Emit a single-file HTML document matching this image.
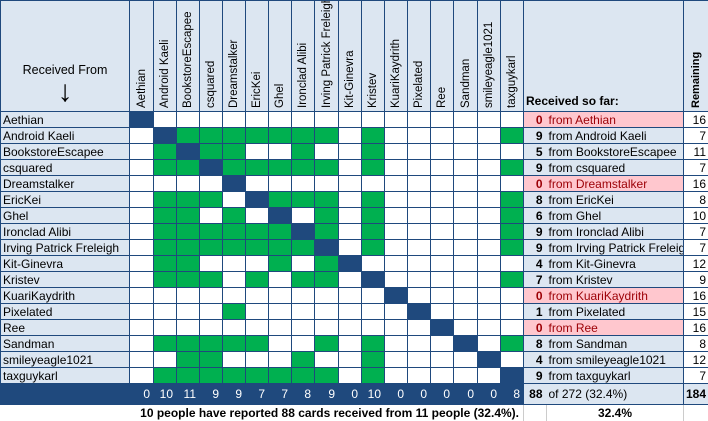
<!DOCTYPE html>
<html><head><meta charset="utf-8"><style>
*{margin:0;padding:0;box-sizing:border-box}
body{width:708px;height:420px;background:#fff;font-family:"Liberation Sans",sans-serif;font-size:12px;color:#000;overflow:hidden}
table{border-collapse:collapse;table-layout:fixed;width:708px}
td{border:1px solid #1f497d;height:16px;padding:0;white-space:nowrap;overflow:hidden;line-height:14px}
td.n{background:#dce6f1;padding-left:2px;font-size:12px}
td.g{background:#00b050}
td.d{background:#1f497d}
td.c{background:#dce6f1;text-align:right;padding-right:4px;font-weight:bold;border-right:none}
td.t{background:#dce6f1;padding-left:2px;border-left:none}
td.cp{background:#ffc7ce;color:#9c0006;text-align:right;padding-right:4px;font-weight:bold;border-right:none}
td.tp{background:#ffc7ce;color:#9c0006;padding-left:2px;border-left:none}
td.r{text-align:right;padding-right:2px;background:#fff}
tr.h td{height:111px;background:#dce6f1;vertical-align:bottom}
.v{writing-mode:vertical-rl;transform:rotate(180deg);font-size:11.5px;line-height:22px;padding-top:3px;height:108px;text-align:left;margin:0 auto}
tr.tot td{height:21px;background:#1f497d;color:#fff;text-align:right;padding-right:3px;font-size:12px}
tr.f td{height:16px;border:none;border-right:1px solid #ccc;font-weight:bold;font-size:12px}
</style></head><body>
<table>
<colgroup><col style="width:129px"><col style="width:24px"><col style="width:23px"><col style="width:23px"><col style="width:23px"><col style="width:23px"><col style="width:23px"><col style="width:23px"><col style="width:23px"><col style="width:24px"><col style="width:23px"><col style="width:23px"><col style="width:23px"><col style="width:23px"><col style="width:23px"><col style="width:24px"><col style="width:23px"><col style="width:23px"><col style="width:23px"><col style="width:137px"><col style="width:25px"></colgroup>
<tr class="h"><td style="text-align:center;vertical-align:top;padding-top:62px;font-size:12.5px">Received From<div style="font-size:30px;line-height:34px;margin-top:-2px">&#8595;</div></td>
<td><div class="v">Aethian</div></td><td><div class="v">Android Kaeli</div></td><td><div class="v">BookstoreEscapee</div></td><td><div class="v">csquared</div></td><td><div class="v">Dreamstalker</div></td><td><div class="v">EricKei</div></td><td><div class="v">Ghel</div></td><td><div class="v">Ironclad Alibi</div></td><td><div class="v">Irving Patrick Freleigh</div></td><td><div class="v">Kit-Ginevra</div></td><td><div class="v">Kristev</div></td><td><div class="v">KuariKaydrith</div></td><td><div class="v">Pixelated</div></td><td><div class="v">Ree</div></td><td><div class="v">Sandman</div></td><td><div class="v">smileyeagle1021</div></td><td><div class="v">taxguykarl</div></td>
<td colspan="2" style="font-weight:bold;padding-left:2px;padding-bottom:3px">Received so far:</td>
<td><div class="v" style="font-weight:bold;font-size:11px">Remaining</div></td></tr>
<tr><td class="n">Aethian</td><td class="d"></td><td></td><td></td><td></td><td></td><td></td><td></td><td></td><td></td><td></td><td></td><td></td><td></td><td></td><td></td><td></td><td></td><td class="cp">0</td><td class="tp">from Aethian</td><td class="r">16</td></tr>
<tr><td class="n">Android Kaeli</td><td></td><td class="d"></td><td class="g"></td><td class="g"></td><td class="g"></td><td class="g"></td><td class="g"></td><td class="g"></td><td class="g"></td><td></td><td class="g"></td><td></td><td></td><td></td><td></td><td></td><td class="g"></td><td class="c">9</td><td class="t">from Android Kaeli</td><td class="r">7</td></tr>
<tr><td class="n">BookstoreEscapee</td><td></td><td class="g"></td><td class="d"></td><td class="g"></td><td class="g"></td><td></td><td></td><td class="g"></td><td></td><td></td><td class="g"></td><td></td><td></td><td></td><td></td><td></td><td></td><td class="c">5</td><td class="t">from BookstoreEscapee</td><td class="r">11</td></tr>
<tr><td class="n">csquared</td><td></td><td class="g"></td><td class="g"></td><td class="d"></td><td class="g"></td><td class="g"></td><td class="g"></td><td class="g"></td><td class="g"></td><td></td><td class="g"></td><td></td><td></td><td></td><td></td><td></td><td class="g"></td><td class="c">9</td><td class="t">from csquared</td><td class="r">7</td></tr>
<tr><td class="n">Dreamstalker</td><td></td><td></td><td></td><td></td><td class="d"></td><td></td><td></td><td></td><td></td><td></td><td></td><td></td><td></td><td></td><td></td><td></td><td></td><td class="cp">0</td><td class="tp">from Dreamstalker</td><td class="r">16</td></tr>
<tr><td class="n">EricKei</td><td></td><td class="g"></td><td class="g"></td><td class="g"></td><td></td><td class="d"></td><td class="g"></td><td class="g"></td><td class="g"></td><td></td><td class="g"></td><td></td><td></td><td></td><td></td><td></td><td class="g"></td><td class="c">8</td><td class="t">from EricKei</td><td class="r">8</td></tr>
<tr><td class="n">Ghel</td><td></td><td class="g"></td><td class="g"></td><td></td><td class="g"></td><td></td><td class="d"></td><td></td><td class="g"></td><td></td><td class="g"></td><td></td><td></td><td></td><td></td><td></td><td class="g"></td><td class="c">6</td><td class="t">from Ghel</td><td class="r">10</td></tr>
<tr><td class="n">Ironclad Alibi</td><td></td><td class="g"></td><td class="g"></td><td class="g"></td><td class="g"></td><td class="g"></td><td class="g"></td><td class="d"></td><td class="g"></td><td></td><td class="g"></td><td></td><td></td><td></td><td></td><td></td><td class="g"></td><td class="c">9</td><td class="t">from Ironclad Alibi</td><td class="r">7</td></tr>
<tr><td class="n">Irving Patrick Freleigh</td><td></td><td class="g"></td><td class="g"></td><td class="g"></td><td class="g"></td><td class="g"></td><td class="g"></td><td class="g"></td><td class="d"></td><td></td><td class="g"></td><td></td><td></td><td></td><td></td><td></td><td class="g"></td><td class="c">9</td><td class="t">from Irving Patrick Freleigh</td><td class="r">7</td></tr>
<tr><td class="n">Kit-Ginevra</td><td></td><td class="g"></td><td class="g"></td><td></td><td></td><td></td><td class="g"></td><td></td><td class="g"></td><td class="d"></td><td></td><td></td><td></td><td></td><td></td><td></td><td></td><td class="c">4</td><td class="t">from Kit-Ginevra</td><td class="r">12</td></tr>
<tr><td class="n">Kristev</td><td></td><td class="g"></td><td class="g"></td><td class="g"></td><td></td><td class="g"></td><td></td><td class="g"></td><td class="g"></td><td></td><td class="d"></td><td></td><td></td><td></td><td></td><td></td><td class="g"></td><td class="c">7</td><td class="t">from Kristev</td><td class="r">9</td></tr>
<tr><td class="n">KuariKaydrith</td><td></td><td></td><td></td><td></td><td></td><td></td><td></td><td></td><td></td><td></td><td></td><td class="d"></td><td></td><td></td><td></td><td></td><td></td><td class="cp">0</td><td class="tp">from KuariKaydrith</td><td class="r">16</td></tr>
<tr><td class="n">Pixelated</td><td></td><td></td><td></td><td></td><td class="g"></td><td></td><td></td><td></td><td></td><td></td><td></td><td></td><td class="d"></td><td></td><td></td><td></td><td></td><td class="c">1</td><td class="t">from Pixelated</td><td class="r">15</td></tr>
<tr><td class="n">Ree</td><td></td><td></td><td></td><td></td><td></td><td></td><td></td><td></td><td></td><td></td><td></td><td></td><td></td><td class="d"></td><td></td><td></td><td></td><td class="cp">0</td><td class="tp">from Ree</td><td class="r">16</td></tr>
<tr><td class="n">Sandman</td><td></td><td class="g"></td><td class="g"></td><td class="g"></td><td class="g"></td><td class="g"></td><td></td><td></td><td class="g"></td><td></td><td class="g"></td><td></td><td></td><td></td><td class="d"></td><td></td><td class="g"></td><td class="c">8</td><td class="t">from Sandman</td><td class="r">8</td></tr>
<tr><td class="n">smileyeagle1021</td><td></td><td></td><td class="g"></td><td class="g"></td><td></td><td></td><td></td><td class="g"></td><td></td><td></td><td class="g"></td><td></td><td></td><td></td><td></td><td class="d"></td><td></td><td class="c">4</td><td class="t">from smileyeagle1021</td><td class="r">12</td></tr>
<tr><td class="n">taxguykarl</td><td></td><td class="g"></td><td class="g"></td><td class="g"></td><td class="g"></td><td class="g"></td><td class="g"></td><td class="g"></td><td class="g"></td><td></td><td class="g"></td><td></td><td></td><td></td><td></td><td></td><td class="d"></td><td class="c">9</td><td class="t">from taxguykarl</td><td class="r">7</td></tr>
<tr class="tot"><td></td><td>0</td><td>10</td><td>11</td><td>9</td><td>9</td><td>7</td><td>7</td><td>8</td><td>9</td><td>0</td><td>10</td><td>0</td><td>0</td><td>0</td><td>0</td><td>0</td><td>8</td>
<td style="background:#dce6f1;color:#000;font-weight:bold;border-right:none;padding-right:4px">88</td><td style="background:#dce6f1;color:#000;text-align:left;padding-left:2px;border-left:none">of 272 (32.4%)</td><td style="background:#dce6f1;color:#000;font-weight:bold;padding-right:2px">184</td></tr>
<tr class="f"><td colspan="18" style="text-align:right;padding-right:4px">10 people have reported 88 cards received from 11 people (32.4%).</td><td></td><td style="text-align:center">32.4%</td><td></td></tr>
</table>
</body></html>
